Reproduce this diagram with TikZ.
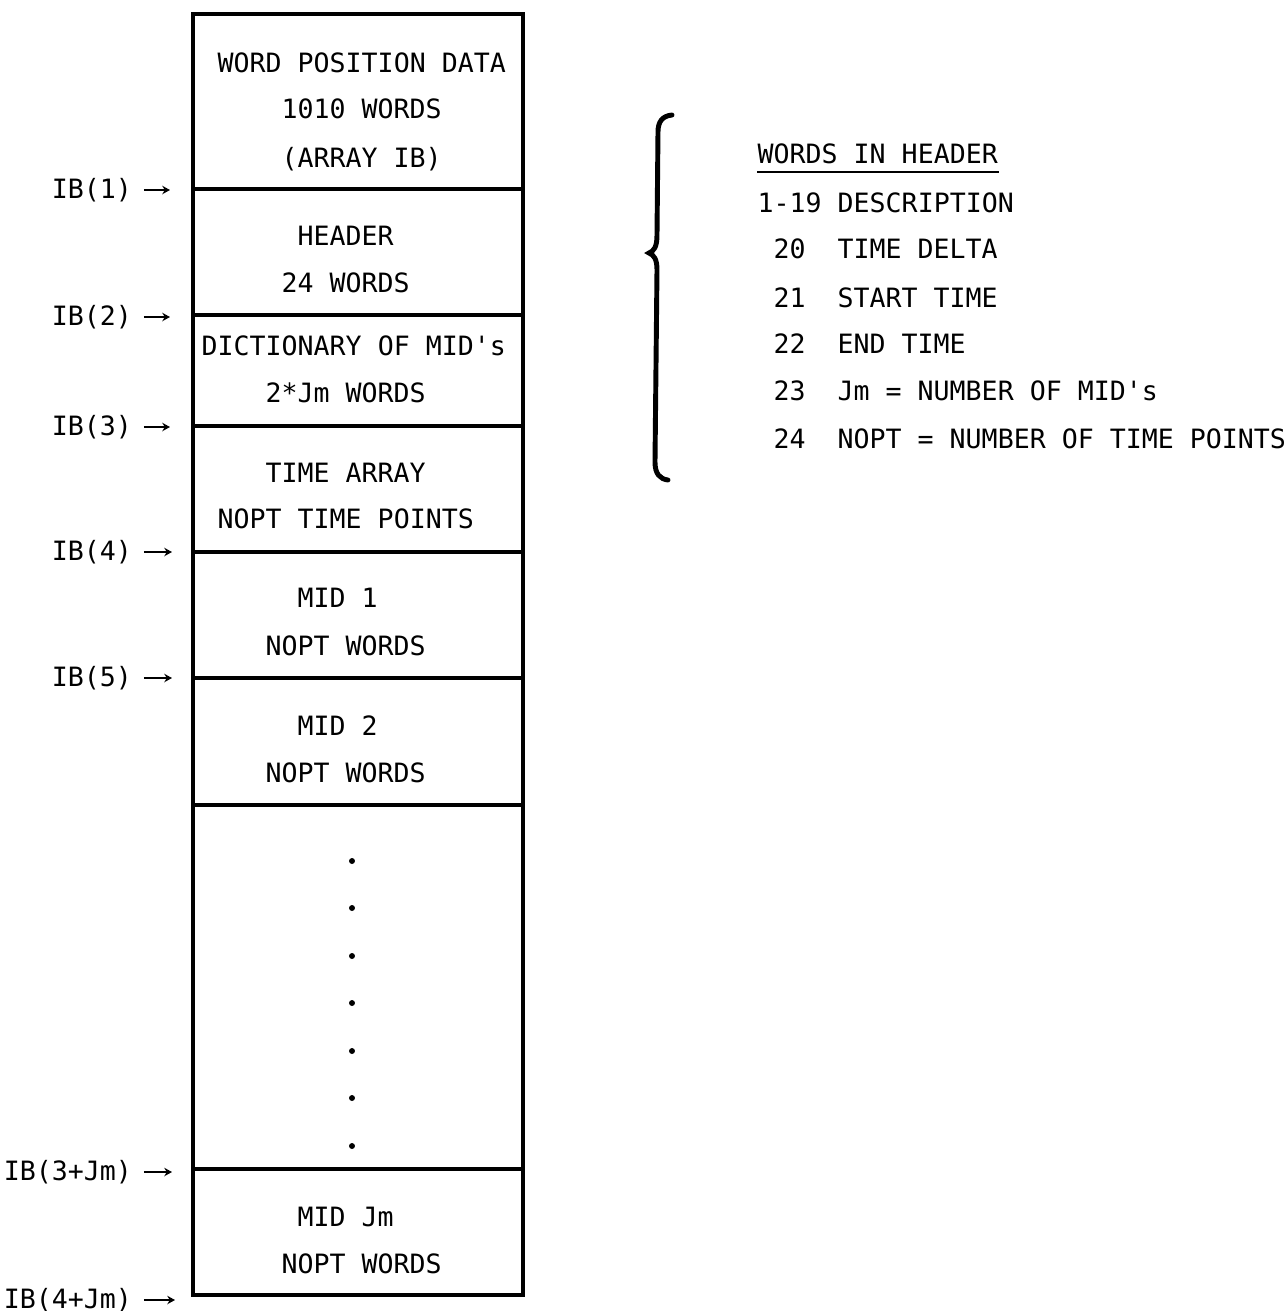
\documentclass[tikz,border=0pt]{standalone}
\usepackage{fontspec}
\newfontfamily\typew{DejaVu Sans Mono}
\usetikzlibrary{arrows.meta}
\begin{document}
\begin{tikzpicture}[x=0.01cm,y=-0.01cm,
  txt/.style={font=\typew\fontsize{7.56pt}{9pt}\selectfont, inner sep=0pt, anchor=base west},
  lbl/.style={font=\typew\fontsize{7.56pt}{9pt}\selectfont, inner sep=0pt, outer sep=0pt, anchor=east},
  arr/.style={-{Stealth[length=2.2pt,width=2.4pt]}, line width=0.7pt, shorten <=3.4pt},
  boxline/.style={line width=1pt},
  brace/.style={line width=1.4pt, line cap=round}]
\useasboundingbox (0,0) rectangle (1287,1311);

% memory block
\draw[boxline] (193,14) rectangle (523,1295);
\foreach \yy in {189,315,426,552,678,805,1169}
  \draw[boxline] (193,\yy) -- (523,\yy);

% cell texts
\node[txt] (t1a) at (217,72) {WORD POSITION DATA};
\node[txt] (t1b) at (281,118) {1010 WORDS};
\node[txt] (t1c) at (281,167) {(ARRAY IB)};
\node[txt] (t2a) at (297,245) {HEADER};
\node[txt] (t2b) at (281,292) {24 WORDS};
\node[txt] (t3a) at (201,355) {DICTIONARY OF MID\textquotesingle s};
\node[txt] (t3b) at (265,402) {2*Jm WORDS};
\node[txt] (t4a) at (265,482) {TIME ARRAY};
\node[txt] (t4b) at (217,528) {NOPT TIME POINTS};
\node[txt] (t5a) at (297,607) {MID 1};
\node[txt] (t5b) at (265,655) {NOPT WORDS};
\node[txt] (t6a) at (297,735) {MID 2};
\node[txt] (t6b) at (265,782) {NOPT WORDS};
\node[txt] (t7a) at (297,1226) {MID Jm};
\node[txt] (t7b) at (281,1273) {NOPT WORDS};

% dots
\foreach \yy in {861,908,956,1003,1051,1098,1146}
  \fill (352,\yy) circle (0.85pt);

% pointer labels
\node[lbl] (L1) at (132,190) {IB(1)};
\node[lbl] (L2) at (132,317) {IB(2)};
\node[lbl] (L3) at (132,427) {IB(3)};
\node[lbl] (L4) at (132,552) {IB(4)};
\node[lbl] (L5) at (132,678) {IB(5)};
\node[lbl] (L6) at (132,1172) {IB(3+Jm)};
\node[lbl] (L7) at (132,1300) {IB(4+Jm)};
\coordinate (T1) at (170,190);
\coordinate (T2) at (170,317);
\coordinate (T3) at (170,427);
\coordinate (T4) at (172,552);
\coordinate (T5) at (172,678);
\coordinate (T6) at (172,1172);
\coordinate (T7) at (175,1300);
\draw[arr] (L1) -- (T1);
\draw[arr] (L2) -- (T2);
\draw[arr] (L3) -- (T3);
\draw[arr] (L4) -- (T4);
\draw[arr] (L5) -- (T5);
\draw[arr] (L6) -- (T6);
\draw[arr] (L7) -- (T7);

% brace
\draw[brace] (672,115) .. controls (662,116) and (658,122) .. (658,132)
  -- (657,235) .. controls (657,247) and (654,251) .. (649,253)
  .. controls (654,255) and (657,259) .. (657,270)
  -- (655,462) .. controls (655,474) and (660,479) .. (668,480);

% header words list
\node[txt] (h0) at (757,163) {WORDS IN HEADER};
\draw[line width=0.7pt] ([yshift=-2.6pt]h0.base west) -- ([yshift=-2.6pt]h0.base east);
\node[txt] (h1) at (757,212) {1-19 DESCRIPTION};
\node[txt] (n20) at (773,258) {20};
\node[txt] (d20) at (837,258) {TIME DELTA};
\node[txt] (n21) at (773,307) {21};
\node[txt] (d21) at (837,307) {START TIME};
\node[txt] (n22) at (773,353) {22};
\node[txt] (d22) at (837,353) {END TIME};
\node[txt] (n23) at (773,400) {23};
\node[txt] (d23) at (837,400) {Jm = NUMBER OF MID\textquotesingle s};
\node[txt] (n24) at (773,448) {24};
\node[txt] (d24) at (837,448) {NOPT = NUMBER OF TIME POINTS};
\end{tikzpicture}
\end{document}
